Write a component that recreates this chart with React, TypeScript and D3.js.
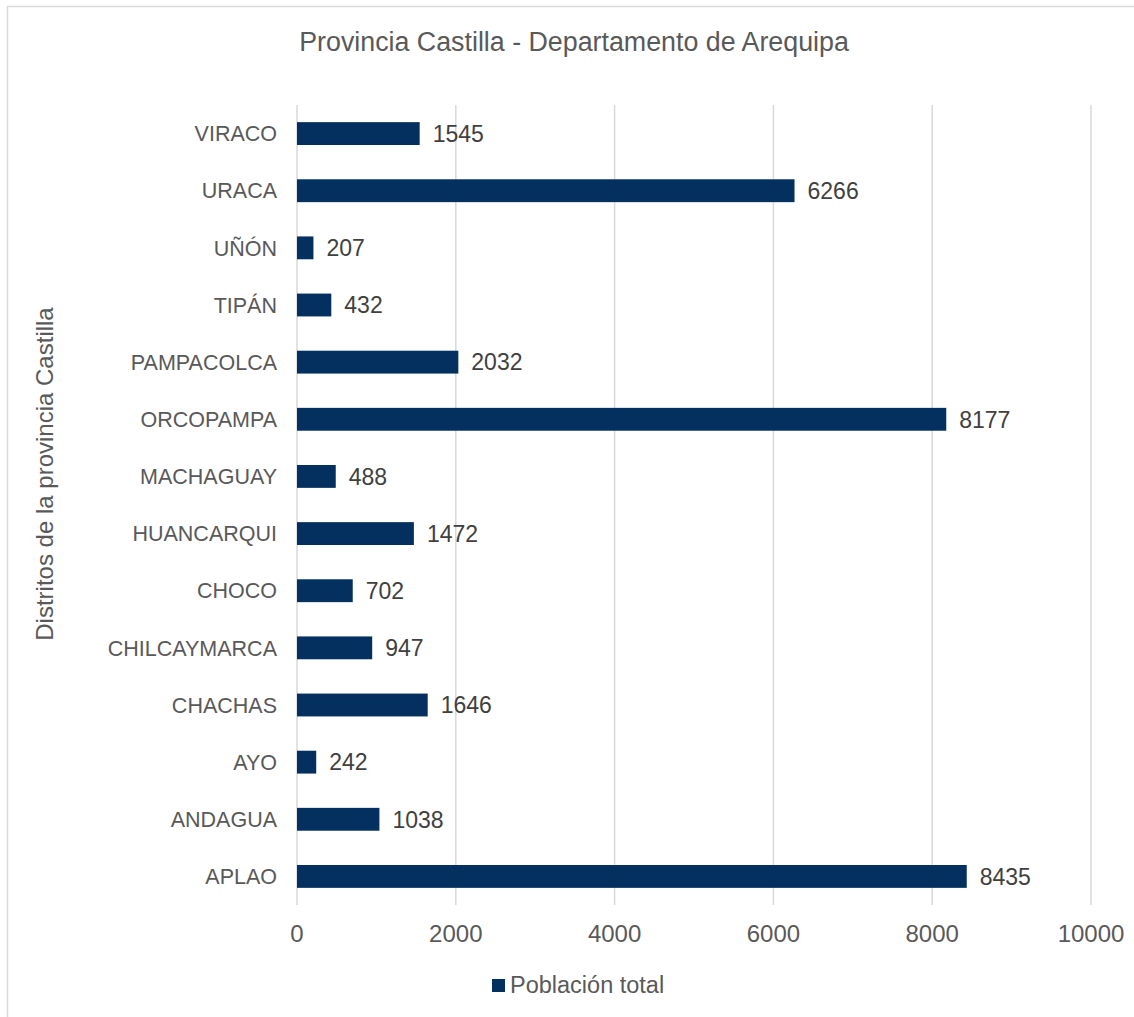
import React from 'react';
import * as d3 from 'd3';

const categories = ['VIRACO', 'URACA', 'UÑÓN', 'TIPÁN', 'PAMPACOLCA', 'ORCOPAMPA', 'MACHAGUAY', 'HUANCARQUI', 'CHOCO', 'CHILCAYMARCA', 'CHACHAS', 'AYO', 'ANDAGUA', 'APLAO'];
const values = [1545, 6266, 207, 432, 2032, 8177, 488, 1472, 702, 947, 1646, 242, 1038, 8435];
const xTicks = [0, 2000, 4000, 6000, 8000, 10000];
const title = 'Provincia Castilla - Departamento de Arequipa';
const yTitle = 'Distritos de la provincia Castilla';
const seriesName = 'Población total';

const W = 1134;
const H = 1017;
const FONT = '"Liberation Sans", Arial, sans-serif';
const BAR = '#03305E';

export default function App() {
  const x = d3.scaleLinear().domain([0, 10000]).range([297, 1091]);
  const y = d3.scaleBand<string>().domain(categories).range([105, 905]).paddingInner(0.6).paddingOuter(0.3);
  return (
    <svg width={W} height={H} style={{ position: 'absolute', left: 0, top: 0, background: '#fff' }} fontFamily={FONT}>
      <rect x={7.5} y={6.5} width={W + 20} height={H + 20} fill="#fff" stroke="#d9d9d9" strokeWidth={1.5} />
      <text x={574} y={51} textAnchor="middle" fontSize={26.8} fill="#595959">{title}</text>
      {xTicks.map(t => (
        <line key={t} x1={x(t)} x2={x(t)} y1={105} y2={905} stroke="#d9d9d9" strokeWidth={1.5} />
      ))}
      {xTicks.map(t => (
        <text key={'t' + t} x={x(t)} y={942} textAnchor="middle" fontSize={24} fill="#595959">{t}</text>
      ))}
      {categories.map((c, i) => {
        const yc = (y(c) as number) + y.bandwidth() / 2;
        return (
          <g key={c}>
            <rect x={x(0)} y={y(c)} width={x(values[i]) - x(0)} height={y.bandwidth()} fill={BAR} />
            <text x={x(values[i]) + 13} y={yc} dy="0.36em" fontSize={23} fill="#404040">{values[i]}</text>
            <text x={277} y={yc} dy="0.36em" textAnchor="end" fontSize={21.5} fill="#595959">{c}</text>
          </g>
        );
      })}
      <text transform={`translate(53,474) rotate(-90)`} textAnchor="middle" fontSize={24} fill="#595959">{yTitle}</text>
      <rect x={492} y={979} width={13} height={13} fill={BAR} />
      <text x={510} y={993} fontSize={23.5} fill="#595959">{seriesName}</text>
    </svg>
  );
}
